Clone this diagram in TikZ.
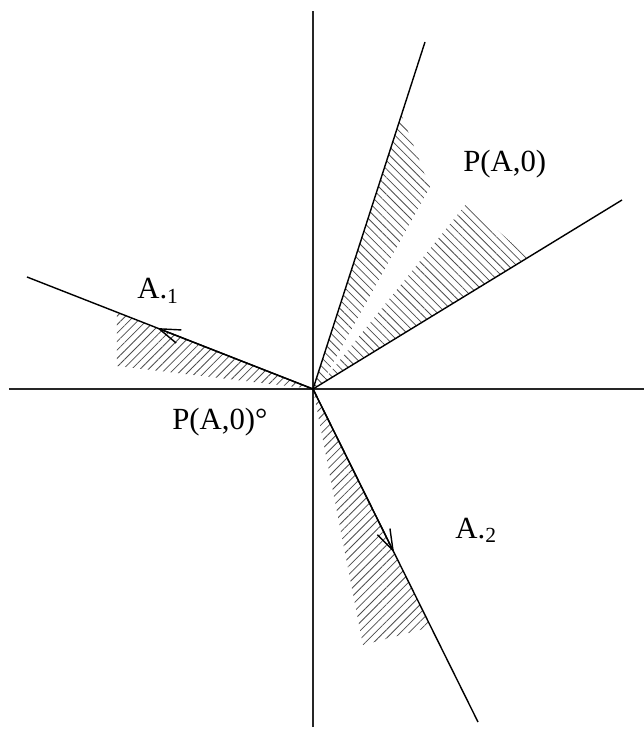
\documentclass[tikz,border=0pt]{standalone}
\usepackage{fontspec}
\setmainfont{Liberation Serif}
\usetikzlibrary{arrows.meta, patterns.meta}

\begin{document}
\begin{tikzpicture}[
    axis/.style={line width=0.7pt, black!85},
    rayline/.style={line width=0.8pt},
    hatchnw/.style={pattern={Lines[angle=-45, distance=3.4pt, line width=0.45pt]}, pattern color=black!70},
    hatchne/.style={pattern={Lines[angle=45, distance=3.4pt, line width=0.45pt]}, pattern color=black!70},
    vec/.style={line width=0.8pt, -{Straight Barb[length=12pt, width=8pt]}},
    lbl/.style={anchor=base west, inner sep=0pt, font=\fontsize{17.5}{21}\selectfont}
]
    \useasboundingbox (-6.26,-6.80) rectangle (6.62,7.78);

    % 原点与射线端点
    \coordinate (O) at (0,0);
    \coordinate (steep) at (2.24,6.94);
    \coordinate (flat) at (6.18,3.78);
    \coordinate (left) at (-5.72,2.24);
    \coordinate (down) at (3.30,-6.66);

    % 阴影区域
    \fill[hatchnw] (O) -- (1.77,5.48) -- (2.34,4.04) -- (0.2,0.16) -- cycle;
    \fill[hatchnw] (O) -- (0.2,0.16) -- (3.08,3.72) -- (4.30,2.63) -- cycle;
    \fill[hatchne] (O) -- (-3.92,1.54) -- (-3.92,0.46) -- cycle;
    \fill[hatchne] (O) -- (2.36,-4.76) -- (1.0,-5.12) -- cycle;

    % 坐标轴
    \draw[axis] (0,-6.76) -- (0,7.56);
    \draw[axis] (-6.08,0) -- (6.62,0);

    % 射线
    \foreach \p in {steep, flat, left, down} {
        \draw[rayline] (O) -- (\p);
    }

    % 向量
    \coordinate (a1) at (-3.12,1.22);
    \coordinate (a2) at (1.62,-3.27);
    \draw[vec] (O) -- (a1);
    \draw[vec] (O) -- (a2);

    % 标签
    \node[lbl] (cone) at (3.00,4.34) {P(A,0)};
    \node[lbl] (polar) at (-2.82,-0.80) {P(A,0)°};
    \node[lbl] (lA1) at (-3.52,1.80) {A.\textsubscript{1}};
    \node[lbl] (lA2) at (2.84,-2.98) {A.\textsubscript{2}};

\end{tikzpicture}
\end{document}
